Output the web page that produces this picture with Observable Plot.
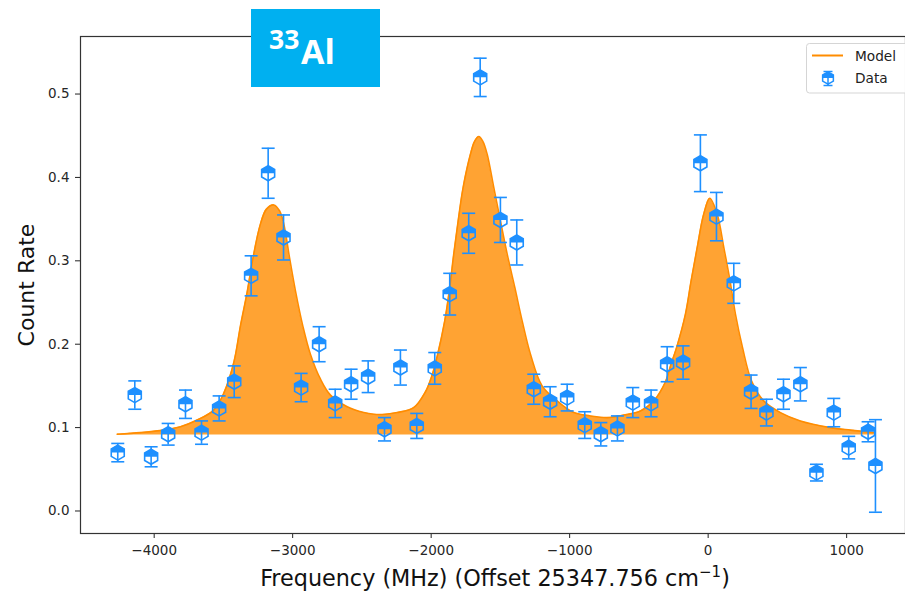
<!DOCTYPE html>
<html>
<head>
<meta charset="utf-8">
<script src="https://cdn.jsdelivr.net/npm/d3@7"></script>
<script src="https://cdn.jsdelivr.net/npm/@observablehq/plot@0.6"></script>
<style>
  body { margin: 0; background: #fff; }
  #wrap { position: relative; width: 905px; height: 592px; overflow: hidden; font-family: "DejaVu Sans", sans-serif; }
  #wrap > svg.overlay { position: absolute; left: 0; top: 0; pointer-events: none; }
</style>
</head>
<body>
<div id="wrap"></div>
<script>
// ---- Data ----
const freq = [-4263, -4140, -4022, -3899, -3774, -3658, -3531, -3422, -3300, -3177,
              -3066, -2939, -2809, -2693, -2578, -2455, -2337, -2222, -2104, -1974,
              -1866, -1729, -1646, -1500, -1382, -1259, -1141, -1018, -891, -775,
              -655, -544, -412, -296, -181, -56, 60, 185, 310, 421,
              544, 666, 782, 907, 1015, 1155, 1208];
const rate = [0.070, 0.139, 0.065, 0.092, 0.128, 0.094, 0.123, 0.155, 0.282, 0.405,
              0.328, 0.148, 0.200, 0.129, 0.152, 0.161, 0.098, 0.172, 0.102, 0.171,
              0.260, 0.333, 0.520, 0.349, 0.322, 0.146, 0.131, 0.136, 0.103, 0.092,
              0.099, 0.130, 0.129, 0.176, 0.178, 0.417, 0.353, 0.273, 0.143, 0.118,
              0.140, 0.152, 0.046, 0.118, 0.076, 0.095, 0.054];
const rateErr = [0.011, 0.017, 0.012, 0.013, 0.017, 0.014, 0.015, 0.019, 0.024, 0.030,
                 0.027, 0.017, 0.021, 0.017, 0.018, 0.019, 0.014, 0.021, 0.015, 0.019,
                 0.025, 0.024, 0.023, 0.027, 0.027, 0.018, 0.018, 0.016, 0.016, 0.014,
                 0.015, 0.018, 0.016, 0.021, 0.020, 0.034, 0.029, 0.024, 0.020, 0.016,
                 0.018, 0.020, 0.010, 0.017, 0.0135, 0.012, 0.0555];

// Model curve
const modelFreq = [-4267, -4099, -3931, -3810, -3690, -3570, -3498, -3425, -3377, -3329,
                   -3288, -3233, -3189, -3136, -3095, -3064, -3023, -2980, -2927, -2872,
                   -2799, -2727, -2606, -2487, -2414, -2330, -2245, -2126, -2041, -1993,
                   -1957, -1902, -1866, -1837, -1805, -1769, -1716, -1687, -1656, -1626,
                   -1596, -1548, -1500, -1451, -1396, -1343, -1283, -1199, -1090, -970,
                   -850, -729, -609, -489, -393, -308, -272, -224, -164, -123,
                   -79, -32, 12, 65, 113, 158, 197, 248, 313, 401,
                   522, 666, 883, 1027, 1200];
const modelRate = [0.092, 0.094, 0.097, 0.101, 0.109, 0.121, 0.141, 0.178, 0.222, 0.262,
                   0.302, 0.344, 0.362, 0.367, 0.360, 0.344, 0.304, 0.264, 0.222, 0.188,
                   0.158, 0.139, 0.125, 0.118, 0.116, 0.116, 0.118, 0.124, 0.143, 0.163,
                   0.185, 0.228, 0.268, 0.308, 0.348, 0.388, 0.428, 0.443, 0.449, 0.443,
                   0.428, 0.388, 0.348, 0.308, 0.268, 0.228, 0.188, 0.150, 0.132, 0.118,
                   0.114, 0.112, 0.115, 0.120, 0.132, 0.155, 0.174, 0.198, 0.236, 0.276,
                   0.316, 0.356, 0.375, 0.356, 0.316, 0.276, 0.236, 0.196, 0.156, 0.132,
                   0.118, 0.108, 0.100, 0.097, 0.094];
const baseline = 0.091;

const xTicks = [-4000, -3000, -2000, -1000, 0, 1000];
const yTicks = [0.0, 0.1, 0.2, 0.3, 0.4, 0.5];
const xLabel = "Frequency (MHz) (Offset 25347.756 cm";
const xLabelSup = "−1";
const yLabel = "Count Rate";
const legendLabels = ["Model", "Data"];
const titleSup = "33";
const titleMain = "Al";

// ---- Build tables ----
const data = freq.map((f, i) => ({f, r: rate[i], e: rateErr[i]}));
const model = modelFreq.map((f, i) => ({f, r: modelRate[i]}));

const BLUE = "#1E90FF";
const ORANGE = "#FF8C00";
const FILL = "#FFA333";

// custom symbols (pointy-top hexagon, its upper half, and a cap line)
const hexOutline = {draw(ctx, size) {
  const R = Math.sqrt(size / Math.PI), w = R * Math.sqrt(3) / 2;
  ctx.moveTo(0, -R); ctx.lineTo(w, -R / 2); ctx.lineTo(w, R / 2); ctx.lineTo(0, R);
  ctx.lineTo(-w, R / 2); ctx.lineTo(-w, -R / 2); ctx.closePath();
}};
const hexTop = {draw(ctx, size) {
  const R = Math.sqrt(size / Math.PI), w = R * Math.sqrt(3) / 2;
  ctx.moveTo(0, -R); ctx.lineTo(w, -R / 2); ctx.lineTo(w, 0);
  ctx.lineTo(-w, 0); ctx.lineTo(-w, -R / 2); ctx.closePath();
}};
const capLine = {draw(ctx, size) {
  const R = Math.sqrt(size / Math.PI);
  ctx.moveTo(-R, 0); ctx.lineTo(R, 0);
}};

const fmtX = d => d < 0 ? "−" + Math.abs(d) : String(d);

const chart = Plot.plot({
  width: 905,
  height: 592,
  marginLeft: 80,
  marginRight: 0,
  marginTop: 36,
  marginBottom: 59,
  style: {fontFamily: "DejaVu Sans, sans-serif", fontSize: "13.5px", color: "#262626", background: "white"},
  x: {domain: [-4532, 1425]},
  y: {domain: [-0.027, 0.569]},
  marks: [
    Plot.areaY(model, {x: "f", y1: () => baseline, y2: "r", fill: FILL, curve: "catmull-rom"}),
    Plot.lineY(model, {x: "f", y: "r", stroke: ORANGE, strokeWidth: 1.6, curve: "catmull-rom"}),
    Plot.ruleX(data, {x: "f", y1: d => d.r - d.e, y2: d => d.r + d.e, stroke: BLUE, strokeWidth: 1.6}),
    Plot.dot(data, {x: "f", y: d => d.r + d.e, symbol: capLine, r: 6.5, stroke: BLUE, strokeWidth: 1.6, fill: "none"}),
    Plot.dot(data, {x: "f", y: d => d.r - d.e, symbol: capLine, r: 6.5, stroke: BLUE, strokeWidth: 1.6, fill: "none"}),
    Plot.dot(data, {x: "f", y: "r", symbol: hexTop, r: 7.5, fill: BLUE, stroke: "none"}),
    Plot.dot(data, {x: "f", y: "r", symbol: hexOutline, r: 7.5, fill: "none", stroke: BLUE, strokeWidth: 1.6}),
    Plot.axisX({ticks: xTicks, tickFormat: fmtX, tickSize: 5, tickPadding: 7, label: null, stroke: "#222"}),
    Plot.axisY({ticks: yTicks, tickFormat: d3.format(".1f"), tickSize: 5, tickPadding: 6, label: null, stroke: "#222"}),
    Plot.frame({stroke: "#333", strokeWidth: 1.2})
  ]
});

const wrap = document.getElementById("wrap");
wrap.appendChild(chart);

// ---- Overlay: title badge, axis labels, legend ----
const ns = "http://www.w3.org/2000/svg";
const ov = d3.select(wrap).append("svg")
  .attr("class", "overlay").attr("width", 905).attr("height", 592)
  .attr("xmlns", ns);

// title badge
ov.append("rect").attr("x", 251).attr("y", 9).attr("width", 129).attr("height", 78).attr("fill", "#00B0F0");
ov.append("text").attr("x", 269).attr("y", 48.5)
  .attr("font-family", "Open Sans, Noto Sans, sans-serif").attr("font-weight", "bold")
  .attr("font-size", 26.5).attr("fill", "white").text(titleSup);
ov.append("text").attr("x", 301).attr("y", 64)
  .attr("font-family", "Open Sans, Noto Sans, sans-serif").attr("font-weight", "bold")
  .attr("font-size", 34).attr("fill", "white").text(titleMain);

// x label
const xl = ov.append("text").attr("x", 495).attr("y", 586).attr("text-anchor", "middle")
  .attr("font-family", "DejaVu Sans, sans-serif").attr("font-size", 22.3).attr("fill", "#111");
xl.append("tspan").text(xLabel);
xl.append("tspan").attr("font-size", 15).attr("dy", -9).text(xLabelSup);
xl.append("tspan").attr("dy", 9).text(")");

// y label
ov.append("text").attr("transform", "translate(34,285) rotate(-90)").attr("text-anchor", "middle")
  .attr("font-family", "DejaVu Sans, sans-serif").attr("font-size", 22).attr("fill", "#111").text(yLabel);

// legend
const lg = ov.append("g");
lg.append("rect").attr("x", 806.5).attr("y", 43.5).attr("width", 110).attr("height", 49.5)
  .attr("rx", 3).attr("fill", "white").attr("fill-opacity", 0.85).attr("stroke", "#d5d5d5");
lg.append("line").attr("x1", 812).attr("x2", 843).attr("y1", 55.5).attr("y2", 55.5)
  .attr("stroke", ORANGE).attr("stroke-width", 2);
lg.append("text").attr("x", 855).attr("y", 60.5).attr("font-family", "DejaVu Sans, sans-serif")
  .attr("font-size", 13.7).attr("fill", "#222").text(legendLabels[0]);
const hx = 828, hy = 78, hr = 6.2, hw = hr * Math.sqrt(3) / 2;
lg.append("path").attr("d", `M${hx},${hy - hr}L${hx + hw},${hy - hr / 2}L${hx + hw},${hy}L${hx - hw},${hy}L${hx - hw},${hy - hr / 2}Z`).attr("fill", BLUE);
lg.append("path").attr("d", `M${hx},${hy - hr}L${hx + hw},${hy - hr / 2}L${hx + hw},${hy + hr / 2}L${hx},${hy + hr}L${hx - hw},${hy + hr / 2}L${hx - hw},${hy - hr / 2}Z`)
  .attr("fill", "none").attr("stroke", BLUE).attr("stroke-width", 1.5);
lg.append("line").attr("x1", hx).attr("x2", hx).attr("y1", 71.5).attr("y2", 85.5).attr("stroke", BLUE).attr("stroke-width", 1.5);
lg.append("line").attr("x1", hx - 4.5).attr("x2", hx + 4.5).attr("y1", 71.5).attr("y2", 71.5).attr("stroke", BLUE).attr("stroke-width", 1.5);
lg.append("line").attr("x1", hx - 4.5).attr("x2", hx + 4.5).attr("y1", 85.5).attr("y2", 85.5).attr("stroke", BLUE).attr("stroke-width", 1.5);
lg.append("text").attr("x", 855).attr("y", 83).attr("font-family", "DejaVu Sans, sans-serif")
  .attr("font-size", 13.7).attr("fill", "#222").text(legendLabels[1]);
</script>
</body>
</html>
